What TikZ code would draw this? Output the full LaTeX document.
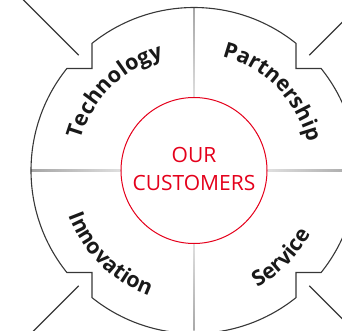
\documentclass[tikz,border=0pt]{standalone}
\usepackage{fontspec}
\setmainfont{Open Sans}
\newfontfamily\ringfont{Open Sans}
\usetikzlibrary{decorations.text}
\definecolor{ourred}{RGB}{228,0,27}
\definecolor{rim}{RGB}{55,55,55}

\begin{document}
\begin{tikzpicture}[x=1pt, y=1pt,
  rim line/.style={rim, line width=1.1pt, line join=miter},
  ring text/.style={decorate, decoration={text along path, text align=center,
      text color=black!90, text={|\ringfont\bfseries\fontsize{21.5}{21.5}\selectfont|#1}}}]

  \def\R{163}   % outer rim
  \def\r{73}    % customer circle
  \def\s{102}   % notch step

  \useasboundingbox (-194,-160.5) rectangle (148,170.5);
  \clip (-194,-160.5) rectangle (148,170.5);

  % ---------------- dividers between the four fields ----------------
  \shade[top color=gray!70, bottom color=gray!25] (-0.6,\r) rectangle (0.6,\R);
  \shade[top color=gray!25, bottom color=gray!70] (-0.6,-\R) rectangle (0.6,-\r);
  \shade[left color=gray!70, right color=gray!25] (-\R,-0.6) rectangle (-\r,0.6);
  \shade[left color=gray!25, right color=gray!70] (\r,-0.6) rectangle (\R,0.6);

  % ---------------- outer rim with the four steps ----------------
  \draw[rim line] (128.74:\R) arc[start angle=128.74, end angle=51.26, radius=\R]
    -- (\s,\s) -- (38.74:\R) arc[start angle=38.74, end angle=-38.74, radius=\R]
    -- (\s,-\s) -- (-51.26:\R) arc[start angle=-51.26, end angle=-128.74, radius=\R]
    -- (-\s,-\s) -- (-141.26:\R) arc[start angle=-141.26, end angle=-218.74, radius=\R]
    -- (-\s,\s) -- cycle;
  % spokes leaving the rim
  \foreach \ang in {45,135,225,315}
    \draw[rim line] (\ang:\R) -- (\ang:260);

  % ---------------- the customer ----------------
  \coordinate (hub) at (0,0);
  \draw[ourred, line width=1pt] (hub) circle[radius=\r];
  \node[ourred, font=\fontsize{21}{28}\selectfont, align=center] (core) at (0,1.5)
    {OUR\\CUSTOMERS};

  % ---------------- labels along the ring ----------------
  \path[ring text=Technology] (180:117) arc[start angle=180, end angle=90, radius=117];
  \path[ring text=Partnership] (90:117) arc[start angle=90, end angle=0, radius=117];
  \path[ring text=Innovation] (180:133) arc[start angle=180, end angle=270, radius=133];
  \path[ring text=Service] (270:133) arc[start angle=270, end angle=360, radius=133];

\end{tikzpicture}
\end{document}
